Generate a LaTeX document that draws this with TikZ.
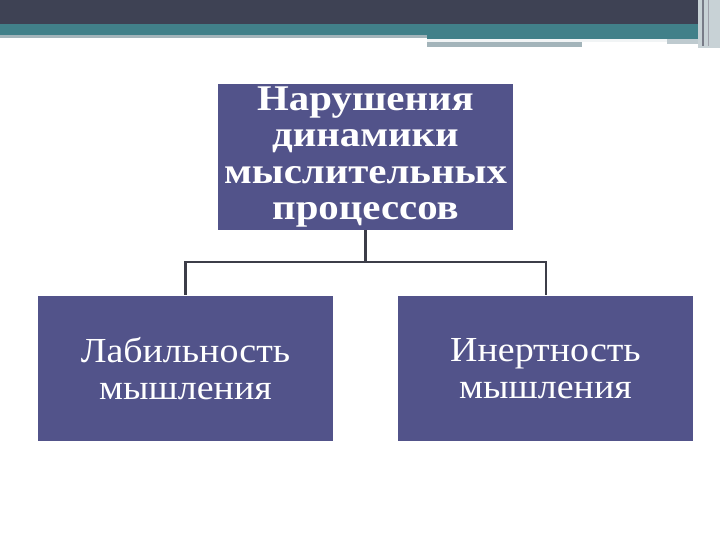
\documentclass[tikz,border=0pt]{standalone}
\usepackage{fontspec}
\setmainfont{Liberation Serif}
\newfontfamily\topfont[FakeStretch=1.13]{Liberation Serif}
\newfontfamily\subfont[FakeStretch=1.08]{Liberation Serif}
\definecolor{boxblue}{HTML}{52538A}
\definecolor{bardark}{HTML}{3E4254}
\definecolor{barteal}{HTML}{418089}
\definecolor{barline}{HTML}{A3B4BA}
\definecolor{linkgray}{HTML}{3C3D48}
\tikzset{
  box/.style={fill=boxblue, text=white, align=center, inner sep=0pt,
    minimum width=10.33cm, minimum height=5.1cm},
  link/.style={draw=linkgray, line width=2pt}
}
\begin{document}
\begin{tikzpicture}[x=0.035cm, y=-0.035cm]

    \useasboundingbox (0,0) rectangle (720,540);
    \fill[white] (0,0) rectangle (720,540);

    % header bars
    \fill[bardark] (0,0) rectangle (720,24);
    \fill[barteal] (0,24) rectangle (700,35);
    \fill[barline] (0,35) rectangle (427,38);
    \fill[barteal] (427,35) rectangle (700,39);
    \fill[white!85!barline] (427,39) rectangle (667,42);
    \fill[barline] (427,42) rectangle (582,47);
    \fill[barline!70!white] (667,39) rectangle (700,44);
    \fill[barline!60!white] (698,0) rectangle (720,48);
    \fill[bardark!70!white] (702,0) rectangle (704,46);
    \fill[bardark!50!white] (708,0) rectangle (709,46);

    % boxes
    \node[box, font=\topfont\bfseries\fontsize{36}{36.5}\selectfont] (top) at (365.5,157)
        {Нарушения\\динамики\\мыслительных\\процессов};
    \node[box, font=\subfont\fontsize{35}{37}\selectfont] (lbox) at (185.5,368.5)
        {Лабильность\\мышления};
    \node[box, font=\subfont\fontsize{35}{37}\selectfont] (rbox) at (545.5,368.5)
        {Инертность\\мышления};

    % connectors
    \coordinate (fork) at (365.5,262);
    \draw[link] (top.south) -- (fork);
    \draw[link] (fork) -| (lbox.north);
    \draw[link] (fork) -| (rbox.north);

\end{tikzpicture}
\end{document}
